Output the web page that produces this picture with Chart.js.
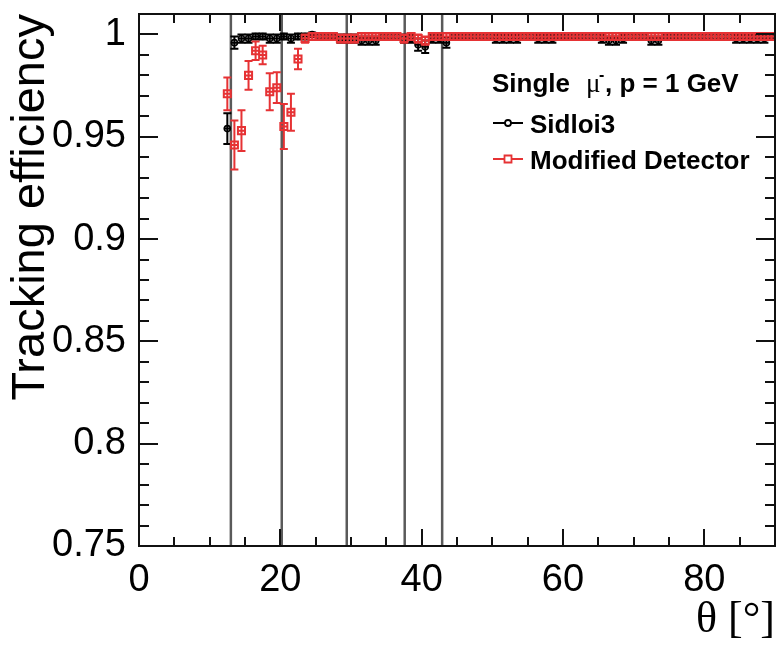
<!DOCTYPE html>
<html><head><meta charset="utf-8">
<script src="https://cdn.jsdelivr.net/npm/chart.js@4"></script>
<style>html,body{margin:0;padding:0;background:#fff}#wrap{width:776px;height:647px}</style>
</head><body><div id="wrap"><canvas id="c" width="776" height="647"></canvas></div>
<script>
const thetaBins = [12.5,13.5,14.5,15.5,16.5,17.5,18.5,19.5,20.5,21.5,
  22.5,23.5,24.5,25.5,26.5,27.5,28.5,29.5,30.5,31.5,
  32.5,33.5,34.5,35.5,36.5,37.5,38.5,39.5,40.5,41.5,
  42.5,43.5,44.5,45.5,46.5,47.5,48.5,49.5,50.5,51.5,
  52.5,53.5,54.5,55.5,56.5,57.5,58.5,59.5,60.5,61.5,
  62.5,63.5,64.5,65.5,66.5,67.5,68.5,69.5,70.5,71.5,
  72.5,73.5,74.5,75.5,76.5,77.5,78.5,79.5,80.5,81.5,
  82.5,83.5,84.5,85.5,86.5,87.5,88.5,89.5];
const sidloi3Eff = [0.954,0.996,0.998,0.998,0.999,0.999,0.998,0.998,0.999,0.998,
  0.999,0.999,1.000,0.999,0.999,0.999,0.998,0.998,0.998,0.997,
  0.997,0.997,0.999,0.999,0.999,0.998,0.998,0.995,0.994,0.998,
  0.998,0.996,0.999,0.999,0.999,0.999,0.999,0.999,0.998,0.998,
  0.998,0.998,0.999,0.999,0.998,0.998,0.998,0.999,0.999,0.999,
  0.999,0.999,0.999,0.998,0.997,0.997,0.998,0.999,0.999,0.999,
  0.997,0.997,0.999,0.999,0.999,0.999,0.999,0.999,0.999,0.999,
  0.999,0.999,0.998,0.998,0.998,0.998,0.998,0.999];
const sidloi3Err = [0.0075,0.003,0.002,0.002,0.0015,0.0015,0.002,0.002,0.0015,0.002,
  0.0015,0.0015,0.001,0.0015,0.0015,0.0015,0.002,0.002,0.002,0.002,
  0.002,0.002,0.0015,0.0015,0.0015,0.002,0.002,0.003,0.003,0.002,
  0.002,0.0025,0.0015,0.0015,0.0015,0.0015,0.0015,0.0015,0.002,0.002,
  0.002,0.002,0.0015,0.0015,0.002,0.002,0.002,0.0015,0.0015,0.0015,
  0.0015,0.0015,0.0015,0.002,0.002,0.002,0.002,0.0015,0.0015,0.0015,
  0.002,0.002,0.0015,0.0015,0.0015,0.0015,0.0015,0.0015,0.0015,0.0015,
  0.0015,0.0015,0.002,0.002,0.002,0.002,0.002,0.0015];
const modifiedEff = [0.971,0.946,0.953,0.980,0.992,0.990,0.972,0.974,0.955,0.962,
  0.988,0.998,0.999,0.999,0.999,0.999,0.998,0.998,0.998,0.999,
  0.999,0.999,0.999,0.999,0.999,0.998,0.999,0.998,0.997,0.999,
  0.999,0.999,0.999,0.999,0.999,0.999,0.999,0.999,0.999,0.999,
  0.999,0.999,0.999,0.999,0.999,0.999,0.999,0.999,0.999,0.999,
  0.999,0.999,0.999,0.999,0.999,0.999,0.999,0.999,0.999,0.999,
  0.999,0.999,0.999,0.999,0.999,0.999,0.999,0.999,0.999,0.999,
  0.999,0.999,0.999,0.999,0.999,0.999,0.999,0.999];
const modifiedErr = [0.008,0.012,0.010,0.007,0.0045,0.0045,0.009,0.0075,0.011,0.009,
  0.005,0.002,0.0015,0.0015,0.0015,0.0015,0.002,0.002,0.002,0.0015,
  0.0015,0.0015,0.0015,0.0015,0.0015,0.002,0.0015,0.002,0.002,0.0015,
  0.0015,0.0015,0.0015,0.0015,0.0015,0.0015,0.0015,0.0015,0.0015,0.0015,
  0.0015,0.0015,0.0015,0.0015,0.0015,0.0015,0.0015,0.0015,0.0015,0.0015,
  0.0015,0.0015,0.0015,0.0015,0.0015,0.0015,0.0015,0.0015,0.0015,0.0015,
  0.0015,0.0015,0.0015,0.0015,0.0015,0.0015,0.0015,0.0015,0.0015,0.0015,
  0.0015,0.0015,0.0015,0.0015,0.0015,0.0015,0.0015,0.0015];
const layerAngles = [13.0, 20.2, 29.4, 37.6, 42.9];
const xTickValues = [0, 20, 40, 60, 80];
const xMinorStep = 5;
const yTickValues = [0.75, 0.8, 0.85, 0.9, 0.95, 1];
const yMinorStep = 0.01;
const legendHeader = ['Single ', 'μ', '-', ', p = 1 GeV'];

const RED = 'rgb(230,50,52)';
const BLACK = '#000';

const errorBarPlugin = {
  id: 'errorBars',
  beforeDatasetDraw(chart, args) {
    const ds = chart.data.datasets[args.index];
    const xs = chart.scales.x, ys = chart.scales.y, a = chart.chartArea;
    const ctx = chart.ctx;
    ctx.save();
    ctx.beginPath(); ctx.rect(a.left, a.top, a.right - a.left, a.bottom - a.top); ctx.clip();
    ctx.strokeStyle = ds.borderColor; ctx.lineWidth = 2;
    const cap = 4;
    ds.data.forEach((p, i) => {
      const e = ds.errors[i];
      const px = xs.getPixelForValue(p.x), py = ys.getPixelForValue(p.y);
      const x0 = xs.getPixelForValue(p.x - 0.5), x1 = xs.getPixelForValue(p.x + 0.5);
      const y0 = ys.getPixelForValue(p.y - e), y1 = ys.getPixelForValue(p.y + e);
      ctx.beginPath();
      ctx.moveTo(x0, py); ctx.lineTo(x1, py);
      ctx.moveTo(px, y0); ctx.lineTo(px, y1);
      ctx.moveTo(px - cap, y0); ctx.lineTo(px + cap, y0);
      ctx.moveTo(px - cap, y1); ctx.lineTo(px + cap, y1);
      ctx.stroke();
    });
    ctx.restore();
  }
};

const framePlugin = {
  id: 'frame',
  beforeDatasetsDraw(chart) {
    const ctx = chart.ctx, a = chart.chartArea, xs = chart.scales.x;
    ctx.save();
    ctx.strokeStyle = '#5a5a5a'; ctx.lineWidth = 2.5;
    layerAngles.forEach(t => {
      const x = xs.getPixelForValue(t);
      ctx.beginPath(); ctx.moveTo(x, a.top); ctx.lineTo(x, a.bottom); ctx.stroke();
    });
    ctx.restore();
  },
  afterDatasetsDraw(chart) {
    const ctx = chart.ctx, a = chart.chartArea, xs = chart.scales.x, ys = chart.scales.y;
    ctx.save();
    ctx.strokeStyle = '#111'; ctx.lineWidth = 2;
    ctx.strokeRect(a.left, a.top, a.right - a.left, a.bottom - a.top);
    ctx.beginPath();
    for (let k = 0; ; k++) {
      const v = xs.min + k * xMinorStep;
      if (v > xs.max + 1e-9) break;
      const major = xTickValues.some(t => Math.abs(t - v) < 1e-6);
      const L = major ? 17 : 9;
      const x = Math.round(xs.getPixelForValue(v));
      ctx.moveTo(x, a.bottom); ctx.lineTo(x, a.bottom - L);
      ctx.moveTo(x, a.top); ctx.lineTo(x, a.top + L);
    }
    for (let k = 0; ; k++) {
      const v = ys.min + k * yMinorStep;
      if (v > ys.max + 1e-9) break;
      const major = yTickValues.some(t => Math.abs(t - v) < 1e-6);
      const L = major ? 19 : 10;
      const y = Math.round(ys.getPixelForValue(v));
      ctx.moveTo(a.left, y); ctx.lineTo(a.left + L, y);
      ctx.moveTo(a.right, y); ctx.lineTo(a.right - L, y);
    }
    ctx.stroke();
    ctx.restore();
  },
  afterDraw(chart) {
    const ctx = chart.ctx;
    ctx.save();
    ctx.fillStyle = '#000';
    ctx.textBaseline = 'alphabetic';
    ctx.font = 'bold 26px "Liberation Sans", Arial, sans-serif';
    ctx.fillText(legendHeader[0], 492, 92);
    ctx.font = '27px "Liberation Serif", serif';
    ctx.fillText(legendHeader[1], 586, 92);
    ctx.font = 'bold 16px "Liberation Sans", Arial, sans-serif';
    ctx.fillText(legendHeader[2], 599, 80);
    ctx.font = 'bold 26px "Liberation Sans", Arial, sans-serif';
    ctx.fillText(legendHeader[3], 605, 92);
    const rows = [{y: 123, ds: chart.data.datasets[0]}, {y: 159, ds: chart.data.datasets[1]}];
    rows.forEach(r => {
      ctx.strokeStyle = r.ds.borderColor; ctx.lineWidth = 2;
      ctx.beginPath(); ctx.moveTo(493, r.y); ctx.lineTo(523, r.y); ctx.stroke();
      ctx.lineWidth = 1.8;
      ctx.fillStyle = '#fff';
      ctx.beginPath();
      if (r.ds.pointStyle === 'circle') ctx.arc(508, r.y, 3, 0, Math.PI * 2);
      else ctx.rect(504.5, r.y - 3.5, 7, 7);
      ctx.fill(); ctx.stroke();
      ctx.fillStyle = '#000';
      ctx.font = 'bold 26px "Liberation Sans", Arial, sans-serif';
      ctx.fillText(r.ds.label, 530, r.y + 10);
    });
    ctx.restore();
  }
};

new Chart(document.getElementById('c'), {
  type: 'scatter',
  data: {
    datasets: [
      {label: 'Sidloi3', data: thetaBins.map((x, i) => ({x, y: sidloi3Eff[i]})), errors: sidloi3Err,
       borderColor: BLACK, backgroundColor: 'rgba(0,0,0,0)', pointStyle: 'circle', pointRadius: 3, borderWidth: 1.6, order: 2},
      {label: 'Modified Detector', data: thetaBins.map((x, i) => ({x, y: modifiedEff[i]})), errors: modifiedErr,
       borderColor: RED, backgroundColor: 'rgba(0,0,0,0)', pointStyle: 'rect', pointRadius: 5, borderWidth: 2, order: 1}
    ]
  },
  options: {
    responsive: false, animation: false, devicePixelRatio: 1,
    layout: {autoPadding: false, padding: {top: 14, right: 1, left: 0, bottom: 0}},
    plugins: {legend: {display: false}, tooltip: {enabled: false}},
    scales: {
      x: {
        type: 'linear', min: 0, max: 90,
        grid: {display: false, drawTicks: false}, border: {display: false},
        afterBuildTicks: s => { s.ticks = xTickValues.map(v => ({value: v})); },
        afterFit: s => { s.height = 101; s.paddingLeft = 0; s.paddingRight = 0; },
        ticks: {color: '#000', padding: 12, maxRotation: 0, font: {family: '"Liberation Sans", Arial, sans-serif', size: 38},
          callback: v => String(v)},
        title: {display: true, text: 'θ [°]', align: 'end', color: '#000', padding: 0,
          font: {family: '"Liberation Serif", serif', size: 44}}
      },
      y: {
        type: 'linear', min: 0.75, max: 1.01,
        grid: {display: false, drawTicks: false}, border: {display: false},
        afterBuildTicks: s => { s.ticks = yTickValues.map(v => ({value: v})); },
        afterFit: s => { s.width = 139; s.paddingTop = 0; s.paddingBottom = 0; },
        ticks: {color: '#000', padding: 13, font: {family: '"Liberation Sans", Arial, sans-serif', size: 38},
          callback: v => String(+v.toFixed(2))},
        title: {display: true, text: 'Tracking efficiency', align: 'end', color: '#000', padding: {top: 3, bottom: 0},
          font: {family: '"Liberation Sans", Arial, sans-serif', size: 47}}
      }
    }
  },
  plugins: [errorBarPlugin, framePlugin]
});
</script></body></html>
